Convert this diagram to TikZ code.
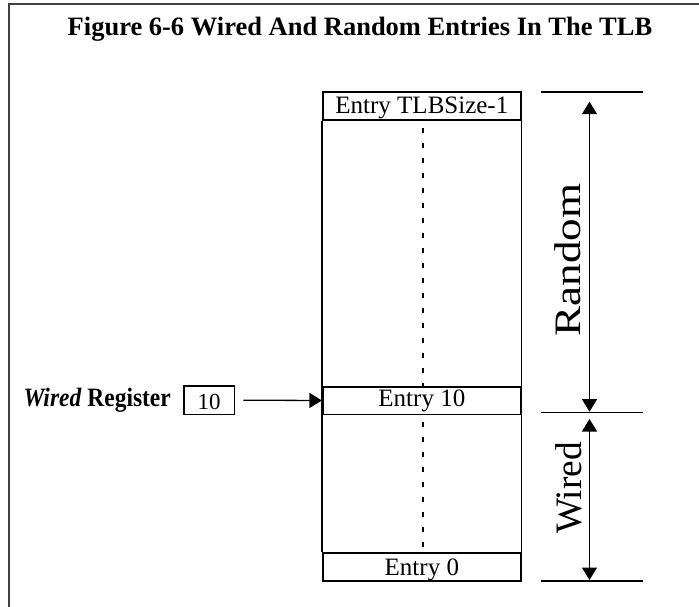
\documentclass[tikz,border=0pt]{standalone}
\usepackage{fontspec}
\setmainfont{Liberation Serif}
\usetikzlibrary{arrows.meta}
\begin{document}
\begin{tikzpicture}[x=1pt,y=-1pt,
  entrybox/.style={draw,line width=1.6pt,minimum width=198.3pt,inner sep=0pt,font=\fontsize{25}{28}\selectfont},
  regbox/.style={draw,line width=1.3pt,minimum width=50.3pt,inner sep=0pt,font=\fontsize{23}{26}\selectfont},
  colline/.style={line width=1.3pt},
  thinline/.style={line width=1.3pt},
  dashline/.style={line width=1.4pt,dash pattern=on 5pt off 10pt,dash phase=8pt},
  frameline/.style={line width=1.5pt,black!75},
  tip/.tip={Triangle[length=12.5pt,width=15pt]},
  dimarrow/.style={line width=1.3pt,tip-tip},
  onearrow/.style={line width=1.3pt,-tip},
  bigtext/.style={rotate=90,anchor=base,inner sep=0pt,font=\fontsize{37.3}{40}\selectfont}
]
\useasboundingbox (0,0) rectangle (699,607);
% frame
\coordinate (fa) at (9,607);
\coordinate (fb) at (9,4);
\coordinate (fc) at (699,4);
\draw[frameline] (fa) -- (fb) -- (fc);
% title
\node[anchor=base,inner sep=0pt,font=\fontsize{26.5}{30}\selectfont\bfseries] (title) at (360,36) {Figure 6-6 Wired And Random Entries In The TLB};
% entries
\node[entrybox,text height=21.3pt,text depth=6.7pt] (top) at (421.85,106) {Entry TLBSize-1};
\node[entrybox,text height=19.3pt,text depth=8.3pt] (e10) at (421.85,400.5) {Entry 10};
\node[entrybox,text height=22.3pt,text depth=6pt] (e0) at (421.85,566.85) {Entry 0};
% column sides
\draw[colline] (top.south west) -- (e0.north west);
\draw[colline] (top.south east) -- (e0.north east);
% dashed centre lines
\draw[dashline] ([xshift=1.2pt]top.south) -- ([xshift=1.2pt]e10.north);
\draw[dashline] ([xshift=1.2pt]e10.south) -- ([xshift=1.2pt]e0.north);
% wired register
\node[anchor=base west,inner sep=0pt,font=\fontsize{23}{26}\selectfont\bfseries] (wreg) at (23.3,406) {\scalebox{1.02}[1.15]{\textit{Wired} Register}};
\node[regbox,text height=23.3pt,text depth=5pt] (reg) at (209.15,400.15) {10};
\draw[onearrow,shorten <=8.4pt] (reg.east) -- (e10.west);
% right side limit lines
\coordinate (h1a) at (540.7,92);
\coordinate (h1b) at (642.7,92);
\coordinate (h2a) at (540.7,412.7);
\coordinate (h2b) at (642.7,412.7);
\coordinate (h3a) at (540.7,581);
\coordinate (h3b) at (642.7,581);
\draw[thinline] (h1a) -- (h1b);
\draw[thinline] (h2a) -- (h2b);
\draw[thinline] (h3a) -- (h3b);
% dimension arrows
\coordinate (rtop) at (589.5,101.7);
\coordinate (rbot) at (589.5,411.7);
\coordinate (wtop) at (589.5,419);
\coordinate (wbot) at (589.5,580);
\draw[dimarrow] (rtop) -- (rbot);
\draw[dimarrow] (wtop) -- (wbot);
% labels
\node[bigtext] (rand) at (580.7,260) {\scalebox{1.21}[1]{Random}};
\node[bigtext] (wired) at (581,488) {Wired};
\end{tikzpicture}
\end{document}
